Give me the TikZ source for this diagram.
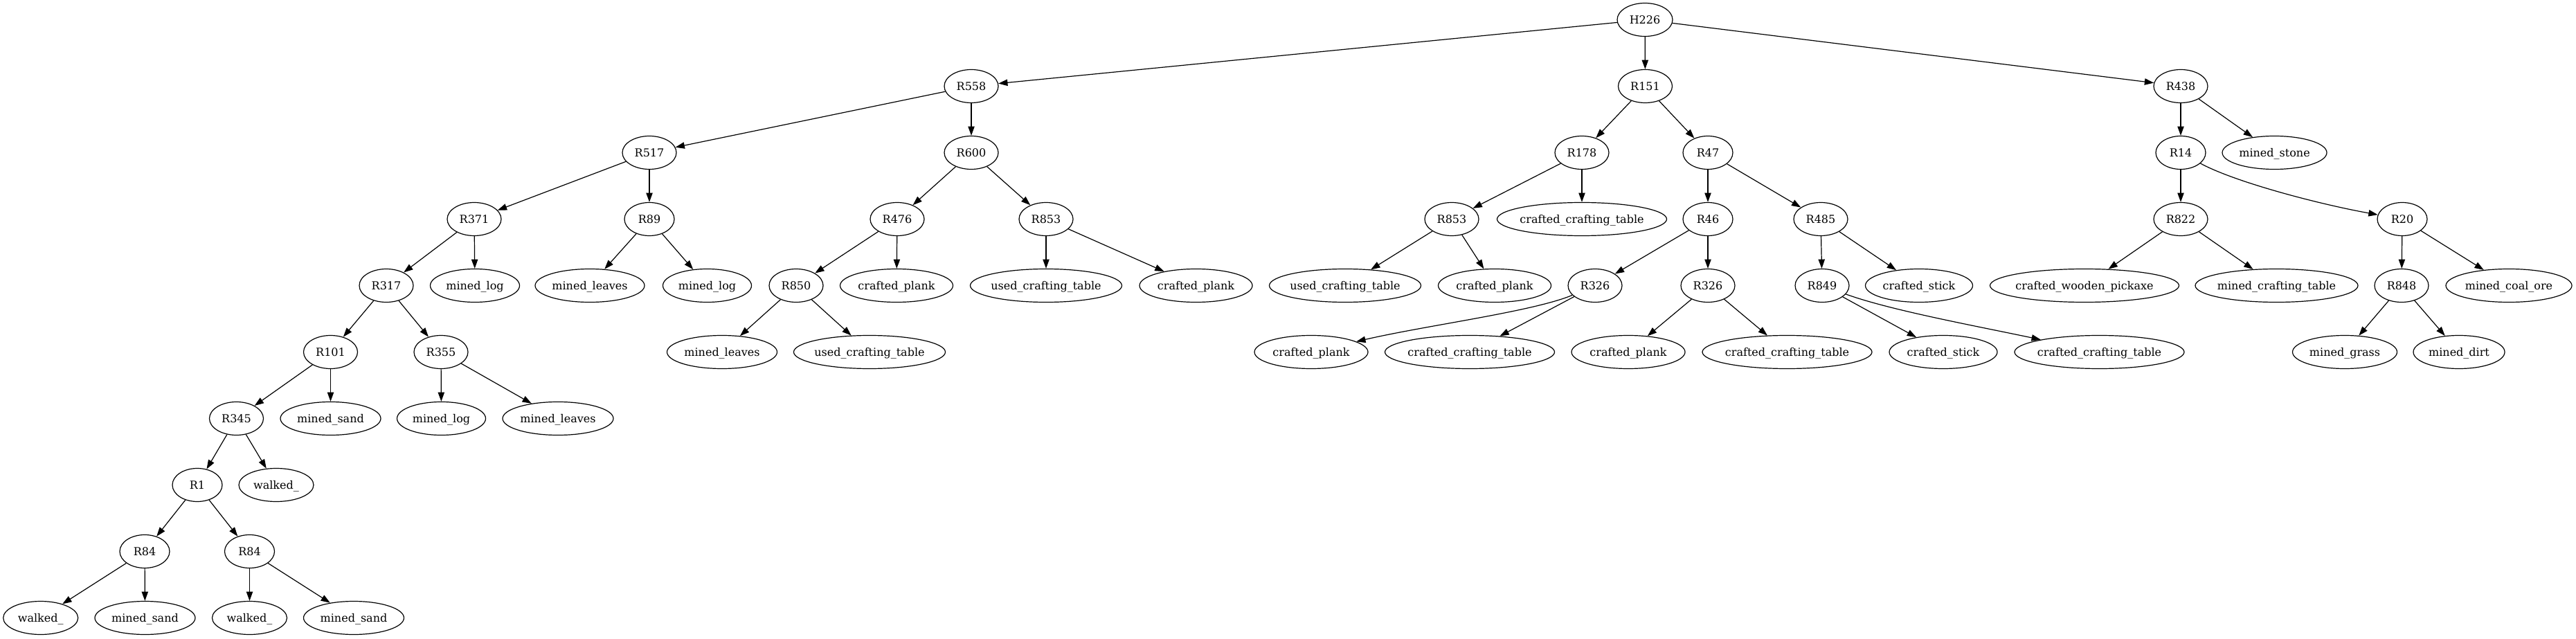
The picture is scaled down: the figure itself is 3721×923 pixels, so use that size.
\documentclass[tikz,border=0pt]{standalone}
\usepackage{fontspec}
\setmainfont{DejaVu Serif}
\usetikzlibrary{shapes.geometric,arrows.meta}
\newcommand\zl[1]{\makebox[0pt]{#1}}
\tikzset{
  nd/.style={ellipse, draw, line width=0.9pt, minimum height=36pt, inner sep=0pt,
    font=\fontsize{12}{14}\selectfont, text height=10pt, text depth=1.3pt},
  wd/.style={minimum width=#1*0.75pt},
  arr/.style={-{Triangle[length=10pt,width=7pt]}, line width=0.9pt}
}
\begin{document}
\begin{tikzpicture}[x=0.75pt,y=-0.75pt]
\useasboundingbox (0,0) rectangle (3721,923);
% row 0
\node[nd,wd=80] (H226) at (2376,28.5) {\zl{H226}};
% row 1
\node[nd,wd=78] (R558) at (1403,124.5) {\zl{R558}};
\node[nd,wd=78] (R151) at (2376.5,124.5) {\zl{R151}};
\node[nd,wd=78] (R438) at (3150,124.5) {\zl{R438}};
% row 2
\node[nd,wd=78] (R517) at (938,220.5) {\zl{R517}};
\node[nd,wd=78] (R600) at (1403,220.5) {\zl{R600}};
\node[nd,wd=78] (R178) at (2285,220.5) {\zl{R178}};
\node[nd,wd=72] (R47) at (2467,220.5) {\zl{R47}};
\node[nd,wd=72] (R14) at (3150,220.5) {\zl{R14}};
\node[nd,wd=151] (ms) at (3285.5,220.5) {\zl{mined\_stone}};
% row 3
\node[nd,wd=78] (R371) at (685,316.5) {\zl{R371}};
\node[nd,wd=72] (R89) at (938,316.5) {\zl{R89}};
\node[nd,wd=78] (R476) at (1296,316.5) {\zl{R476}};
\node[nd,wd=78] (R853a) at (1511,316.5) {\zl{R853}};
\node[nd,wd=78] (R853b) at (2097,316.5) {\zl{R853}};
\node[nd,wd=245] (cct1) at (2285,316.5) {\zl{crafted\_crafting\_table}};
\node[nd,wd=72] (R46) at (2467,316.5) {\zl{R46}};
\node[nd,wd=78] (R485) at (2630,316.5) {\zl{R485}};
\node[nd,wd=78] (R822) at (3150,316.5) {\zl{R822}};
\node[nd,wd=72] (R20) at (3470,316.5) {\zl{R20}};
% row 4
\node[nd,wd=78] (R317) at (558,412.5) {\zl{R317}};
\node[nd,wd=129] (mlog1) at (686,412.5) {\zl{mined\_log}};
\node[nd,wd=158] (mleav1) at (852,412.5) {\zl{mined\_leaves}};
\node[nd,wd=128] (mlog2) at (1021.5,412.5) {\zl{mined\_log}};
\node[nd,wd=78] (R850) at (1150,412.5) {\zl{R850}};
\node[nd,wd=163] (cp1) at (1295,412.5) {\zl{crafted\_plank}};
\node[nd,wd=219] (uct1) at (1511,412.5) {\zl{used\_crafting\_table}};
\node[nd,wd=163] (cp2) at (1727.5,412.5) {\zl{crafted\_plank}};
\node[nd,wd=219] (uct2) at (1943,412.5) {\zl{used\_crafting\_table}};
\node[nd,wd=163] (cp3) at (2159,412.5) {\zl{crafted\_plank}};
\node[nd,wd=78] (R326a) at (2304,412.5) {\zl{R326}};
\node[nd,wd=78] (R326b) at (2467,412.5) {\zl{R326}};
\node[nd,wd=78] (R849) at (2632,412.5) {\zl{R849}};
\node[nd,wd=155] (cs1) at (2772,412.5) {\zl{crafted\_stick}};
\node[nd,wd=273] (cwp) at (3011,412.5) {\zl{crafted\_wooden\_pickaxe}};
\node[nd,wd=235] (mct) at (3288.5,412.5) {\zl{mined\_crafting\_table}};
\node[nd,wd=78] (R848) at (3469,412.5) {\zl{R848}};
\node[nd,wd=182] (mco) at (3624,412.5) {\zl{mined\_coal\_ore}};
% row 5
\node[nd,wd=78] (R101) at (477.5,508.5) {\zl{R101}};
\node[nd,wd=78] (R355) at (637,508.5) {\zl{R355}};
\node[nd,wd=159] (mleav2) at (1043,508.5) {\zl{mined\_leaves}};
\node[nd,wd=219] (uct3) at (1256,508.5) {\zl{used\_crafting\_table}};
\node[nd,wd=164] (cp4) at (1894,508.5) {\zl{crafted\_plank}};
\node[nd,wd=245] (cct2) at (2123,508.5) {\zl{crafted\_crafting\_table}};
\node[nd,wd=164] (cp5) at (2352,508.5) {\zl{crafted\_plank}};
\node[nd,wd=245] (cct3) at (2581.5,508.5) {\zl{crafted\_crafting\_table}};
\node[nd,wd=156] (cs2) at (2807,508.5) {\zl{crafted\_stick}};
\node[nd,wd=245] (cct4) at (3032.5,508.5) {\zl{crafted\_crafting\_table}};
\node[nd,wd=151] (mgrass) at (3387,508.5) {\zl{mined\_grass}};
\node[nd,wd=132] (mdirt) at (3552,508.5) {\zl{mined\_dirt}};
% row 6
\node[nd,wd=78] (R345) at (341.5,604.5) {\zl{R345}};
\node[nd,wd=145] (msand1) at (477.5,604.5) {\zl{mined\_sand}};
\node[nd,wd=128] (mlog3) at (637.5,604.5) {\zl{mined\_log}};
\node[nd,wd=160] (mleav3) at (806,604.5) {\zl{mined\_leaves}};
% row 7
\node[nd,wd=72] (R1) at (285,700.5) {\zl{R1}};
\node[nd,wd=108] (walk1) at (399,700.5) {\zl{walked\_}};
% row 8
\node[nd,wd=72] (R84a) at (209,796.5) {\zl{R84}};
\node[nd,wd=72] (R84b) at (360.5,796.5) {\zl{R84}};
% row 9
\node[nd,wd=108] (walk2) at (58.7,892.5) {\zl{walked\_}};
\node[nd,wd=145] (msand2) at (209.5,892.5) {\zl{mined\_sand}};
\node[nd,wd=108] (walk3) at (360.5,892.5) {\zl{walked\_}};
\node[nd,wd=145] (msand3) at (511,892.5) {\zl{mined\_sand}};
% edges
\draw[arr] (H226) -- (R558);
\draw[arr] (H226) -- (R151);
\draw[arr] (H226) -- (R438);
\draw[arr] (R558) -- (R517);
\draw[arr] (R558) -- (R600);
\draw[arr] (R517) -- (R371);
\draw[arr] (R517) -- (R89);
\draw[arr] (R371) -- (R317);
\draw[arr] (R371) -- (mlog1);
\draw[arr] (R89) -- (mleav1);
\draw[arr] (R89) -- (mlog2);
\draw[arr] (R317) -- (R101);
\draw[arr] (R317) -- (R355);
\draw[arr] (R101) -- (R345);
\draw[arr] (R101) -- (msand1);
\draw[arr] (R355) -- (mlog3);
\draw[arr] (R355) -- (mleav3);
\draw[arr] (R345) -- (R1);
\draw[arr] (R345) -- (walk1);
\draw[arr] (R1) -- (R84a);
\draw[arr] (R1) -- (R84b);
\draw[arr] (R84a) -- (walk2);
\draw[arr] (R84a) -- (msand2);
\draw[arr] (R84b) -- (walk3);
\draw[arr] (R84b) -- (msand3);
\draw[arr] (R600) -- (R476);
\draw[arr] (R600) -- (R853a);
\draw[arr] (R476) -- (R850);
\draw[arr] (R476) -- (cp1);
\draw[arr] (R850) -- (mleav2);
\draw[arr] (R850) -- (uct3);
\draw[arr] (R853a) -- (uct1);
\draw[arr] (R853a) -- (cp2);
\draw[arr] (R151) -- (R178);
\draw[arr] (R151) -- (R47);
\draw[arr] (R178) -- (R853b);
\draw[arr] (R178) -- (cct1);
\draw[arr] (R853b) -- (uct2);
\draw[arr] (R853b) -- (cp3);
\draw[arr] (R47) -- (R46);
\draw[arr] (R47) -- (R485);
\draw[arr] (R46) -- (R326a);
\draw[arr] (R46) -- (R326b);
\draw[arr] (R326a) .. controls (2215,450) and (2060,470) .. (cp4);
\draw[arr] (R326a) -- (cct2);
\draw[arr] (R326b) -- (cp5);
\draw[arr] (R326b) -- (cct3);
\draw[arr] (R485) -- (R849);
\draw[arr] (R485) -- (cs1);
\draw[arr] (R849) -- (cs2);
\draw[arr] (R849) .. controls (2730,448) and (2850,470) .. (cct4);
\draw[arr] (R438) -- (R14);
\draw[arr] (R438) -- (ms);
\draw[arr] (R14) -- (R822);
\draw[arr] (R14) .. controls (3228,263) and (3350,295) .. (R20);
\draw[arr] (R822) -- (cwp);
\draw[arr] (R822) -- (mct);
\draw[arr] (R20) -- (R848);
\draw[arr] (R20) -- (mco);
\draw[arr] (R848) -- (mgrass);
\draw[arr] (R848) -- (mdirt);
\end{tikzpicture}
\end{document}
